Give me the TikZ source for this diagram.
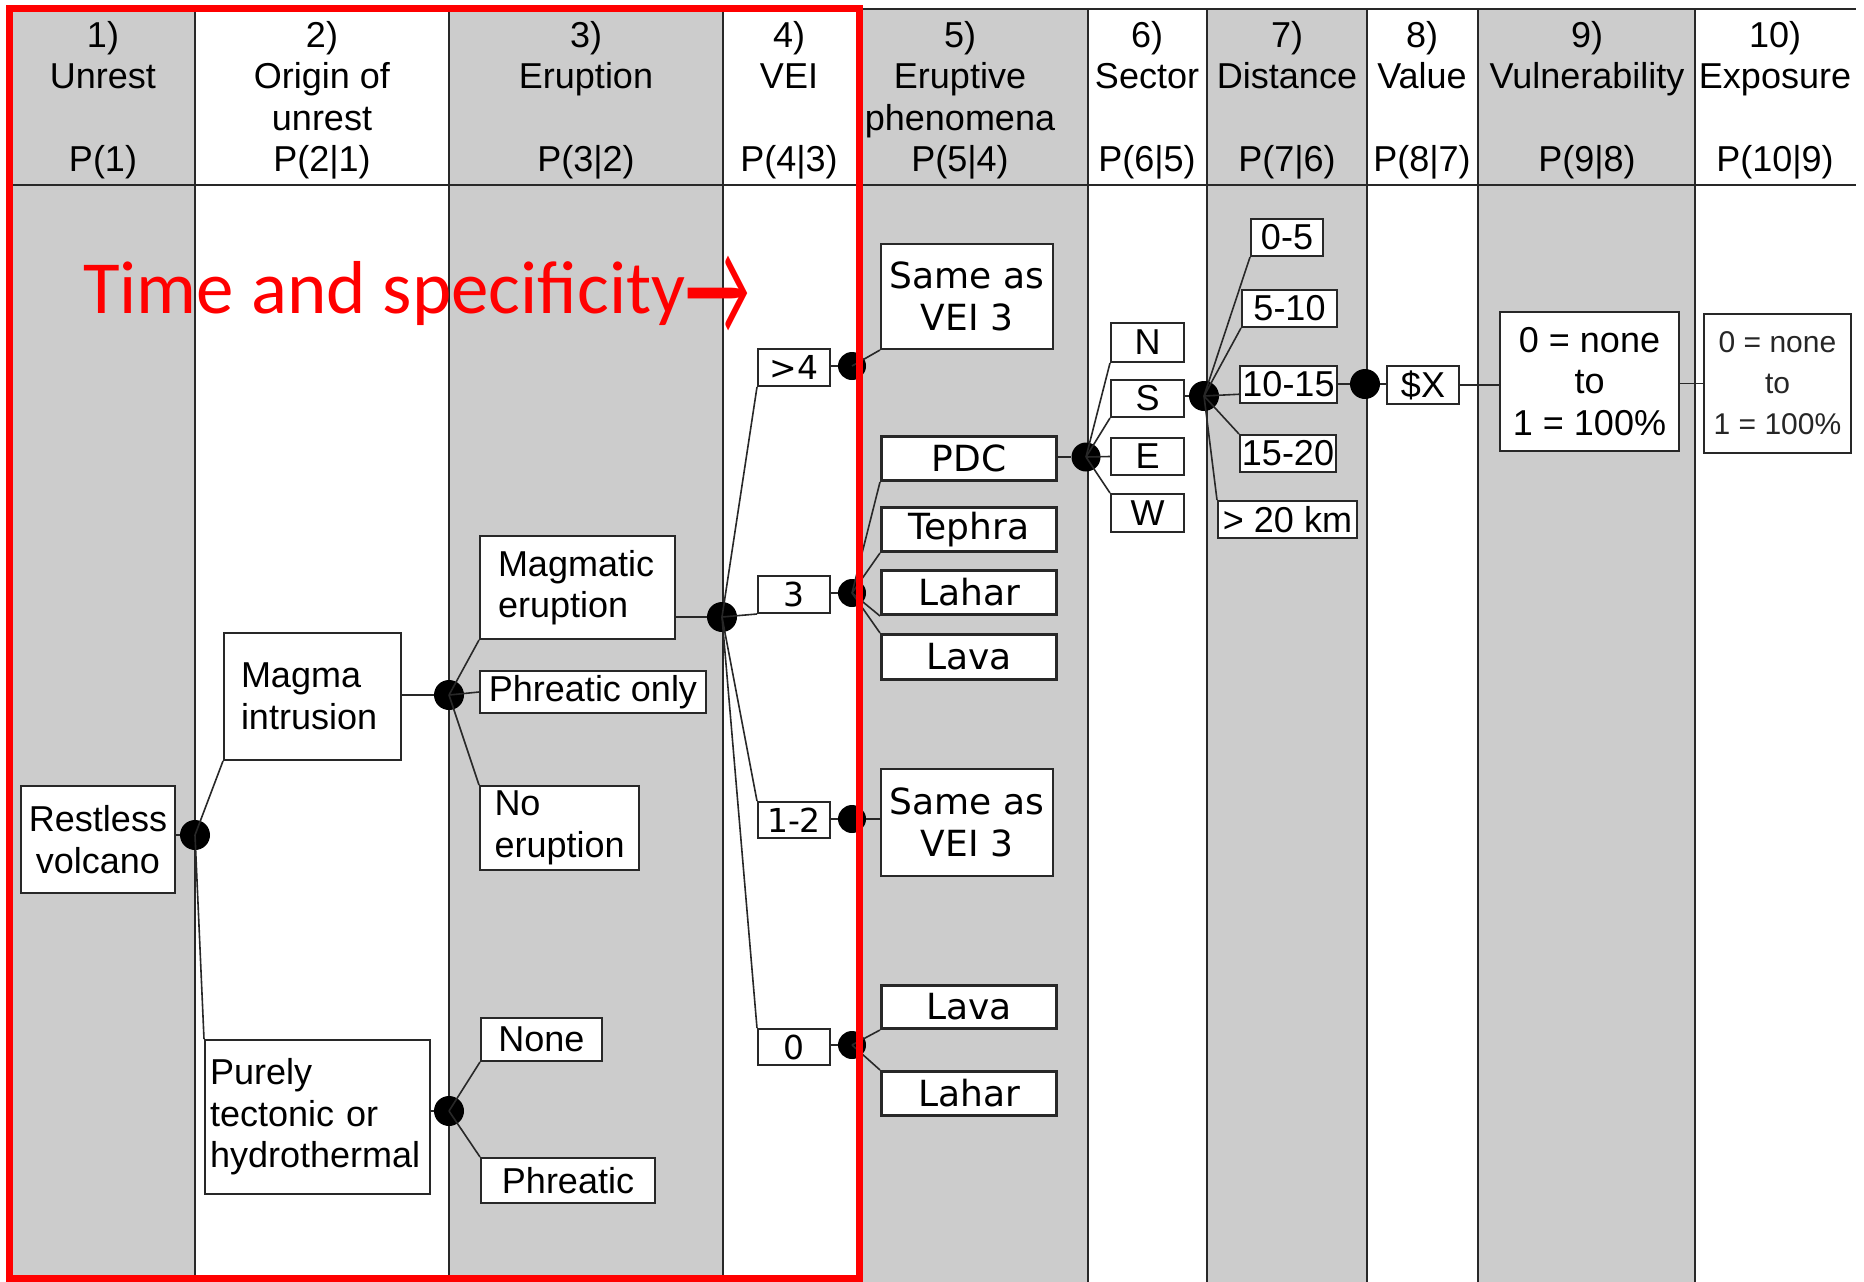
\documentclass[tikz,border=0pt]{standalone}
\usepackage{graphicx}
\usepackage{fontspec}
\setmainfont{Liberation Sans}
\newfontfamily\dvfont{DejaVu Sans}
\newfontfamily\calfont{Carlito}
\usetikzlibrary{calc}
\definecolor{colgray}{RGB}{204,204,204}
\definecolor{redline}{RGB}{255,0,0}
\definecolor{edge}{RGB}{40,40,40}
\begin{document}
\begin{tikzpicture}[x=1pt,y=-1pt,
  hd/.style={anchor=base, inner sep=0pt, font=\fontsize{36}{41.5}\selectfont},
  box/.style={draw=edge, line width=2pt, fill=white, inner sep=0pt, anchor=north west,
    font=\fontsize{36}{41.5}\selectfont, align=center},
  dv/.style={font=\dvfont\fontsize{36}{41.5}\selectfont},
  dvs/.style={font=\dvfont\fontsize{33}{40}\selectfont},
  thick box/.style={line width=3pt},
  dot/.style={circle, fill=black, inner sep=0pt, minimum size=30pt},
  conn/.style={draw=edge, line width=1.6pt},
  colline/.style={draw=edge, line width=2pt},
]
\useasboundingbox (0,0) rectangle (1864,1282);
\fill[white] (0,0) rectangle (1864,1282);
% column fills
\fill[colgray] (12,10) rectangle (195,1282);
\fill[colgray] (449,10) rectangle (723,1282);
\fill[colgray] (862,10) rectangle (1088,1282);
\fill[colgray] (1207,10) rectangle (1367,1282);
\fill[colgray] (1478,10) rectangle (1695,1282);
\foreach \x in {195,449,723,862,1088,1207,1367,1478,1695}
  \draw[colline] (\x,10) -- (\x,1282);
\draw[edge, line width=2.5pt] (862,9) -- (1856,9);
\draw[edge, line width=2.5pt] (12,185) -- (1856,185);
% header texts
\foreach \n/\x/\a/\b/\d in {1/103/1)/Unrest/P(1), 2/322/2)/Origin of/P(2|1),
  3/586/3)/Eruption/P(3|2), 4/789/4)/VEI/P(4|3), 5/960/5)/Eruptive/P(5|4),
  6/1147/6)/Sector/P(6|5), 7/1287/7)/Distance/P(7|6), 8/1422/8)/Value/P(8|7),
  9/1587/9)/Vulnerability/P(9|8), 10/1775/10)/Exposure/P(10|9)} {
  \node[hd] (hn\n) at (\x,47) {\a};
  \node[hd] (ht\n) at (\x,88.5) {\b};
  \node[hd] (hp\n) at (\x,171.5) {\d};
}
\node[hd] (hu2) at (322,130) {unrest};
\node[hd] (hu5) at (960,130) {phenomena};

% ---------- nodes (boxes) ----------
\node[box, minimum width=154pt, minimum height=107pt] (restless) at (20,785) {Restless\\volcano};
\node[box, align=left, text width=143pt, inner xsep=17pt, minimum height=127pt] (magma) at (223,632) {Magma\\intrusion};
\node[box, align=left, text width=215pt, inner xsep=5pt, minimum height=154pt] (purely) at (204,1039) {Purely\\tectonic~or\\\mbox{hydrothermal}};
\node[box, align=left, text width=159pt, inner xsep=18pt, minimum height=103pt] (magmatic) at (479,535) {Magmatic\\eruption};
\node[box, minimum width=226pt, minimum height=42pt] (phronly) at (479,670) {Phreatic only};
\node[box, align=left, text width=130pt, inner xsep=14.5pt, minimum height=84pt] (noerupt) at (479,785) {No\\\mbox{eruption}};
\node[box, minimum width=121pt, minimum height=43pt] (none) at (480,1017) {None};
\node[box, minimum width=174pt, minimum height=45pt] (phreatic) at (480,1157) {Phreatic};

\node[box, dvs, minimum width=72pt, minimum height=37pt] (v4) at (757,348) {>4};
\node[box, dvs, minimum width=72pt, minimum height=37pt] (v3) at (757,575) {3};
\node[box, dvs, minimum width=72pt, minimum height=36pt] (v12) at (757,801) {1-2};
\node[box, dvs, minimum width=72pt, minimum height=36pt] (v0) at (757,1028) {0};

\node[box, dv, minimum width=172pt, minimum height=105pt] (same1) at (880,243) {Same as\\VEI 3};
\node[box, dv, thick box, minimum width=175pt, minimum height=44pt] (pdc) at (880,435) {PDC};
\node[box, dv, thick box, minimum width=175pt, minimum height=44pt] (tephra) at (880,506) {Tephra};
\node[box, dv, thick box, minimum width=175pt, minimum height=44pt] (lahar1) at (880,569) {Lahar};
\node[box, dv, thick box, minimum width=175pt, minimum height=45pt] (lava1) at (880,633) {Lava};
\node[box, dv, minimum width=172pt, minimum height=107pt] (same2) at (880,768) {Same as\\VEI 3};
\node[box, dv, thick box, minimum width=175pt, minimum height=43pt] (lava2) at (880,984) {Lava};
\node[box, dv, thick box, minimum width=175pt, minimum height=44pt] (lahar2) at (880,1070) {Lahar};

\node[box, minimum width=73pt, minimum height=39pt] (secN) at (1110,322) {N};
\node[box, minimum width=73pt, minimum height=37pt] (secS) at (1110,379) {S};
\node[box, minimum width=73pt, minimum height=37pt] (secE) at (1110,437) {E};
\node[box, minimum width=73pt, minimum height=38pt] (secW) at (1110,493) {W};

\node[box, minimum width=72pt, minimum height=37pt] (d05) at (1250,218) {0-5};
\node[box, minimum width=95pt, minimum height=37pt] (d510) at (1241,289) {5-10};
\node[box, minimum width=97pt, minimum height=37pt] (d1015) at (1239,365) {10-15};
\node[box, minimum width=96pt, minimum height=37pt] (d1520) at (1239,434) {15-20};
\node[box, minimum width=139pt, minimum height=37pt] (d20) at (1217,500) {> 20 km};

\node[box, minimum width=72pt, minimum height=38pt] (vx) at (1386,365) {\$X};
\node[box, minimum width=179pt, minimum height=139pt] (vul) at (1499,311) {0 = none\\to\\1 = 100\%};
\node[box, minimum width=147pt, minimum height=139pt, font=\fontsize{30}{41}\selectfont, text=black!85] (expo) at (1703,313) {0 = none\\to\\1 = 100\%};

% ---------- dots ----------
\node[dot] (dot1) at (195,835) {};
\node[dot] (dot2) at (449,695) {};
\node[dot] (dot3) at (449,1111) {};
\node[dot] (dot4) at (722,617) {};
\node[dot, minimum size=28pt] (e4) at (852,366) {};
\node[dot, minimum size=28pt] (e3) at (852,593) {};
\node[dot, minimum size=28pt] (e12) at (852,819) {};
\node[dot, minimum size=28pt] (e0) at (852,1045) {};
\node[dot, minimum size=29pt] (dot5) at (1086,457) {};
\node[dot] (dot6) at (1204,396) {};
\node[dot] (dot7) at (1365,384) {};

% ---------- connectors ----------
\draw[conn] (restless.east |- dot1) -- (dot1);
\draw[conn] (dot1.center) -- (magma.south west);
\draw[conn] (dot1.center) -- (purely.north west);
\draw[conn] (magma.east |- dot2) -- (dot2);
\draw[conn] (dot2.center) -- (magmatic.south west);
\draw[conn] (dot2.center) -- (phronly.west);
\draw[conn] (dot2.center) -- (noerupt.north west);
\draw[conn] (purely.east |- dot3) -- (dot3);
\draw[conn] (dot3.center) -- (none.south west);
\draw[conn] (dot3.center) -- (phreatic.north west);
\draw[conn] (magmatic.east |- dot4) -- (dot4);
\draw[conn] (dot4.center) -- (v4.south west);
\draw[conn] (dot4.center) -- (v3.south west);
\draw[conn] (dot4.center) -- (v12.north west);
\draw[conn] (dot4.center) -- (v0.north west);
\draw[conn] (v4.east |- e4) -- (e4);
\draw[conn] (v3.east |- e3) -- (e3);
\draw[conn] (v12.east |- e12) -- (e12);
\draw[conn] (v0.east |- e0) -- (e0);
\draw[conn] (e4.center) -- (same1.south west);
\draw[conn] (e3.center) -- (pdc.south west);
\draw[conn] (e3.center) -- (tephra.south west);
\draw[conn] (e3.center) -- (lahar1.south west);
\draw[conn] (e3.center) -- (lava1.north west);
\draw[conn] (e12) -- (same2.west |- e12);
\draw[conn] (e0.center) -- (lava2.south west);
\draw[conn] (e0.center) -- (lahar2.north west);
\draw[conn] (pdc.east |- dot5) -- (dot5);
\draw[conn] (dot5.center) -- (secN.south west);
\draw[conn] (dot5.center) -- (secS.south west);
\draw[conn] (dot5.center) -- (secE.west);
\draw[conn] (dot5.center) -- (secW.north west);
\draw[conn] (secS.east |- dot6) -- (dot6);
\draw[conn] (dot6.center) -- (d05.south west);
\draw[conn] (dot6.center) -- (d510.south west);
\draw[conn] (dot6.center) -- ($(d1015.south west)!0.25!(d1015.north west)$);
\draw[conn] (dot6.center) -- (d1520.north west);
\draw[conn] (dot6.center) -- (d20.north west);
\draw[conn] (d1015.east |- dot7) -- (dot7);
\draw[conn] (dot7) -- (vx.west |- dot7);
\draw[conn] (vx.east) -- (vul.west |- vx.east);
\draw[conn] (vul.east |- expo.west) -- (expo.west);

% ---------- red overlay ----------
\draw[redline, line width=7pt] (9,8) rectangle (859,1278);
\node[anchor=base west, inner sep=0pt, text=redline, font=\calfont\fontsize{75}{80}\selectfont] (tsp) at (83,313)
  {Time and specificity\raisebox{-22.5pt}{\scalebox{0.95}[1.85]{→}}};
\end{tikzpicture}
\end{document}
